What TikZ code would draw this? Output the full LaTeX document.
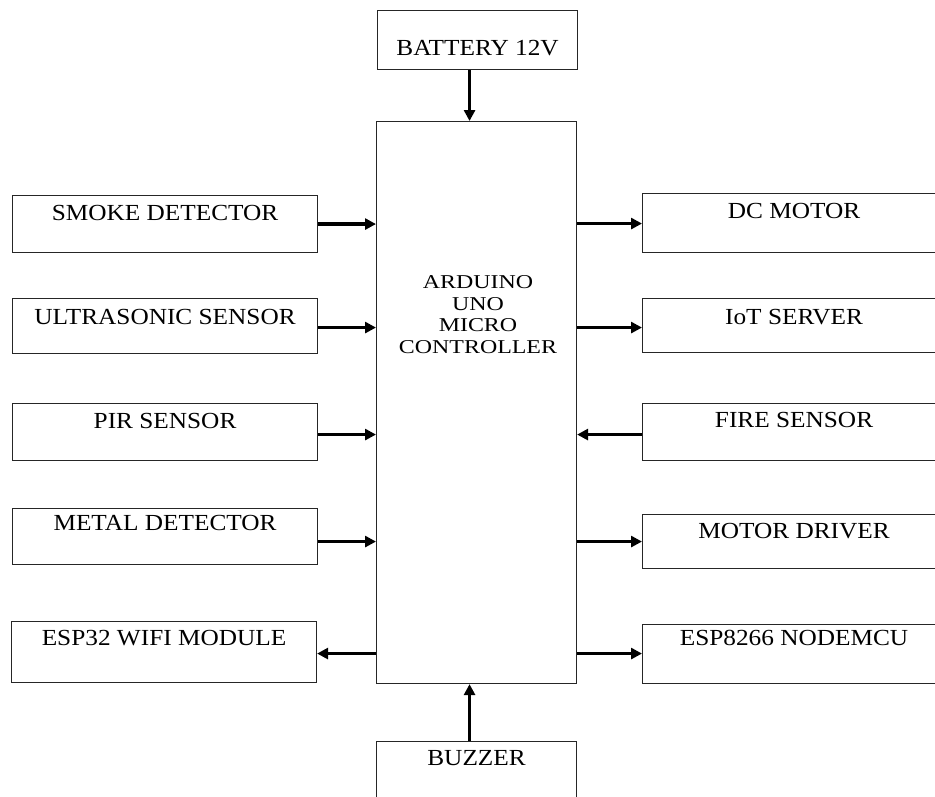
\documentclass[tikz,border=0pt]{standalone}
\usepackage{fontspec}
\usepackage{graphicx}
\setmainfont{Liberation Serif}
\usetikzlibrary{arrows.meta}
\newcommand{\wide}[1]{\scalebox{1.1}[1]{#1}}
\newcommand{\wider}[1]{\scalebox{1.22}[1]{#1}}
\tikzset{
  box/.style={draw=black!85, line width=1.1pt, inner sep=0pt, anchor=north west,
    font=\fontsize{23}{27}\selectfont},
  arr/.style={line width=3.6pt, -{Triangle[length=11pt,width=11pt]}},
}
\begin{document}
\begin{tikzpicture}[x=1pt,y=-1pt]
\useasboundingbox (0,0) rectangle (935,796);
% central controller
\node[box, minimum width=200pt, minimum height=562pt] (ctrl) at (376,121) {};
\node[align=center, font=\fontsize{19.6}{21.7}\selectfont, inner sep=0pt] (ctrltext) at (478,314.5)
  {\wider{ARDUINO}\\\wider{UNO}\\\wider{MICRO}\\\wider{CONTROLLER}};
% top / bottom
\node[box, minimum width=200pt, text height=44.5pt, text depth=14.5pt] (battery) at (377,10) {\wide{BATTERY 12V}};
\node[box, minimum width=200pt, text height=23.5pt, text depth=46.5pt] (buzzer) at (376,741) {\wide{BUZZER}};
% left column
\node[box, minimum width=305pt, text height=24.5pt, text depth=32.5pt] (smoke) at (12,195) {\wide{SMOKE DETECTOR}};
\node[box, minimum width=305pt, text height=25.5pt, text depth=29.5pt] (ultra) at (12,298) {\wide{ULTRASONIC SENSOR}};
\node[box, minimum width=305pt, text height=24.5pt, text depth=32.5pt] (pir) at (12,403) {\wide{PIR SENSOR}};
\node[box, minimum width=305pt, text height=21.5pt, text depth=34.5pt] (metal) at (12,508) {\wide{METAL DETECTOR}};
\node[box, minimum width=305pt, text height=23.5pt, text depth=37.5pt] (esp32) at (11,621) {\wide{ESP32 WIFI MODULE}};
% right column
\node[box, minimum width=303pt, text height=24.5pt, text depth=34.5pt] (dc) at (642,193) {\wide{DC MOTOR}};
\node[box, minimum width=303pt, text height=25.5pt, text depth=28.5pt] (iot) at (642,298) {\wide{IoT SERVER}};
\node[box, minimum width=303pt, text height=23.5pt, text depth=33.5pt] (fire) at (642,403) {\wide{FIRE SENSOR}};
\node[box, minimum width=303pt, text height=23.5pt, text depth=30.5pt] (driver) at (642,514) {\wide{MOTOR DRIVER}};
\node[box, minimum width=303pt, text height=20.5pt, text depth=38.5pt] (esp8266) at (642,624) {\wide{ESP8266 NODEMCU}};
% vertical connectors
\draw[arr] ([xshift=-8pt]battery.south) -- ([xshift=-8pt]battery.south |- ctrl.north);
\draw[arr] ([xshift=-7pt]buzzer.north) -- ([xshift=-7pt]buzzer.north |- ctrl.south);
% left connectors
\draw[arr] (smoke.east) -- (smoke.east -| ctrl.west);
\draw[arr] ([yshift=-1.5pt]ultra.east) -- ([yshift=-1.5pt]ultra.east -| ctrl.west);
\draw[arr] ([yshift=-2.5pt]pir.east) -- ([yshift=-2.5pt]pir.east -| ctrl.west);
\draw[arr] ([yshift=-5pt]metal.east) -- ([yshift=-5pt]metal.east -| ctrl.west);
\draw[arr] ([yshift=-1.5pt]esp32.east -| ctrl.west) -- ([yshift=-1.5pt]esp32.east);
% right connectors
\draw[arr] ([yshift=-0.5pt]dc.west -| ctrl.east) -- ([yshift=-0.5pt]dc.west);
\draw[arr] ([yshift=-2pt]iot.west -| ctrl.east) -- ([yshift=-2pt]iot.west);
\draw[arr] ([yshift=-2.5pt]fire.west) -- ([yshift=-2.5pt]fire.west -| ctrl.east);
\draw[arr] (driver.west -| ctrl.east) -- (driver.west);
\draw[arr] ([yshift=0.5pt]esp8266.west -| ctrl.east) -- ([yshift=0.5pt]esp8266.west);
\end{tikzpicture}
\end{document}
